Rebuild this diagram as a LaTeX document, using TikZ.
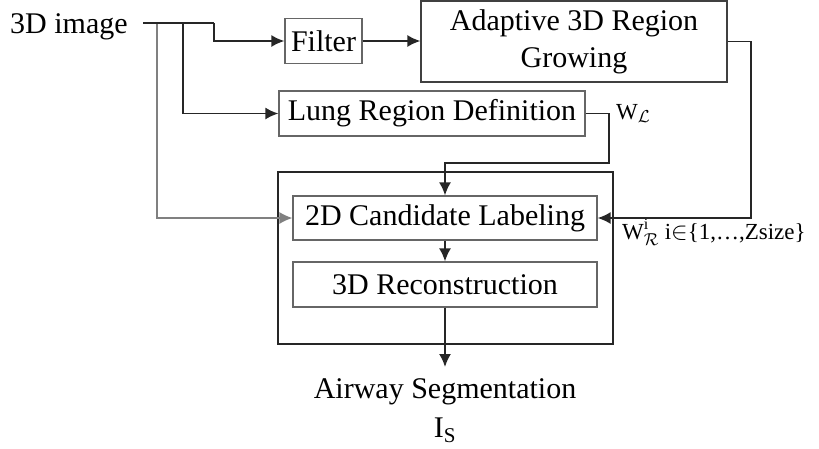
\documentclass[tikz,border=0pt]{standalone}
\usepackage{fontspec}
\setmainfont{Liberation Serif}
\usetikzlibrary{arrows.meta,calc}
\begin{document}
\begin{tikzpicture}[x=1pt,y=-1pt,
  font=\fontsize{30}{36}\selectfont,
  box/.style={draw=black!60, line width=1.2pt, inner sep=0pt, align=center},
  dk/.style={draw=black!85, line width=1.8pt},
  gy/.style={draw=black!50, line width=1.4pt},
  tip/.style={-{Latex[length=13pt,width=12pt]}},
  lab/.style={font=\fontsize{23}{27}\selectfont, inner sep=0pt}]
\useasboundingbox (0,0) rectangle (819,448);
% nodes
\node[anchor=base west, inner sep=0pt] (img) at (10,33) {3D image};
\node[box, minimum width=77, minimum height=45] (filter) at (323.5,41) {Filter};
\node[box, draw=black!75, minimum width=306, minimum height=81] (adapt) at (574,41.5) {Adaptive 3D Region\\[1pt]Growing};
\node[box, minimum width=306, minimum height=45] (lung) at (432,113.5) {Lung Region Definition};
\node[draw=black!85, line width=1.8pt, minimum width=335, minimum height=172, inner sep=0pt] (outer) at (445.5,258) {};
\node[box, minimum width=304, minimum height=44] (cand) at (445,218) {2D Candidate Labeling};
\node[box, minimum width=304, minimum height=45] (recon) at (445,284.5) {3D Reconstruction};
\node[inner sep=0pt, anchor=base] (airway) at (445,398) {Airway Segmentation};
\node[inner sep=0pt, anchor=base] (is) at (445,437) {I$_{\mathrm{S}}$};
\node[lab, anchor=base west] (wl) at (616,119) {W$_{\mathcal{L}}$};
\node[lab, anchor=base west] (wr) at (622,239) {W$^{\mathrm{i}}_{\mathcal{R}}$\ i$\in$\{1,\dots,Zsize\}};
% coordinates
\coordinate (s) at (143,23);
\coordinate (j1) at (157,23);
\coordinate (j2) at (183,23);
\coordinate (j3) at (214,23);
\coordinate (out) at (445,367);
% connectors
\draw[gy, tip] (j1) |- (cand.west);
\draw[dk, tip] (j2) |- (lung.west);
\draw[dk] (s) -- (j3);
\draw[dk, tip] (j3) -- (j3 |- filter.west) -- (filter.west);
\draw[dk, tip] (filter.east) -- (adapt.west |- filter.east);
\draw[dk, tip] (adapt.east) -- ++(23,0) |- (cand.east);
\draw[dk, tip] (lung.east) -- ++(23,0) -- ++(0,49.5) -| (cand.north);
\draw[dk, tip] (cand.south) -- (recon.north);
\draw[dk, tip] (recon.south) -- (out);
\end{tikzpicture}
\end{document}
